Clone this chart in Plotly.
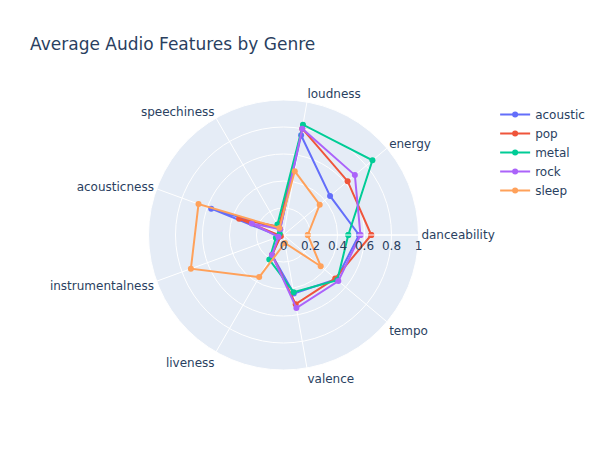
import plotly.graph_objects as go

features = ["danceability", "energy", "loudness", "speechiness", "acousticness",
            "instrumentalness", "liveness", "valence", "tempo"]

acoustic = [0.56, 0.45, 0.75, 0.05, 0.57, 0.03, 0.17, 0.44, 0.51]
pop = [0.65, 0.62, 0.80, 0.07, 0.35, 0.02, 0.17, 0.52, 0.50]
metal = [0.48, 0.86, 0.83, 0.09, 0.03, 0.06, 0.21, 0.43, 0.52]
rock = [0.57, 0.69, 0.80, 0.05, 0.25, 0.04, 0.17, 0.55, 0.53]
sleep = [0.18, 0.35, 0.48, 0.06, 0.67, 0.73, 0.36, 0.06, 0.36]

series = [("acoustic", acoustic), ("pop", pop), ("metal", metal), ("rock", rock), ("sleep", sleep)]

fig = go.Figure()
for name, vals in series:
    fig.add_trace(go.Scatterpolar(
        r=vals + vals[:1],
        theta=features + features[:1],
        mode="lines+markers",
        name=name,
    ))

fig.update_layout(
    title=dict(text="Average Audio Features by Genre"),
    font=dict(family="Verdana, DejaVu Sans, sans-serif"),
    polar=dict(radialaxis=dict(visible=True, range=[0, 1])),
    width=602,
    height=450,
)
fig.write_html("out.html")
